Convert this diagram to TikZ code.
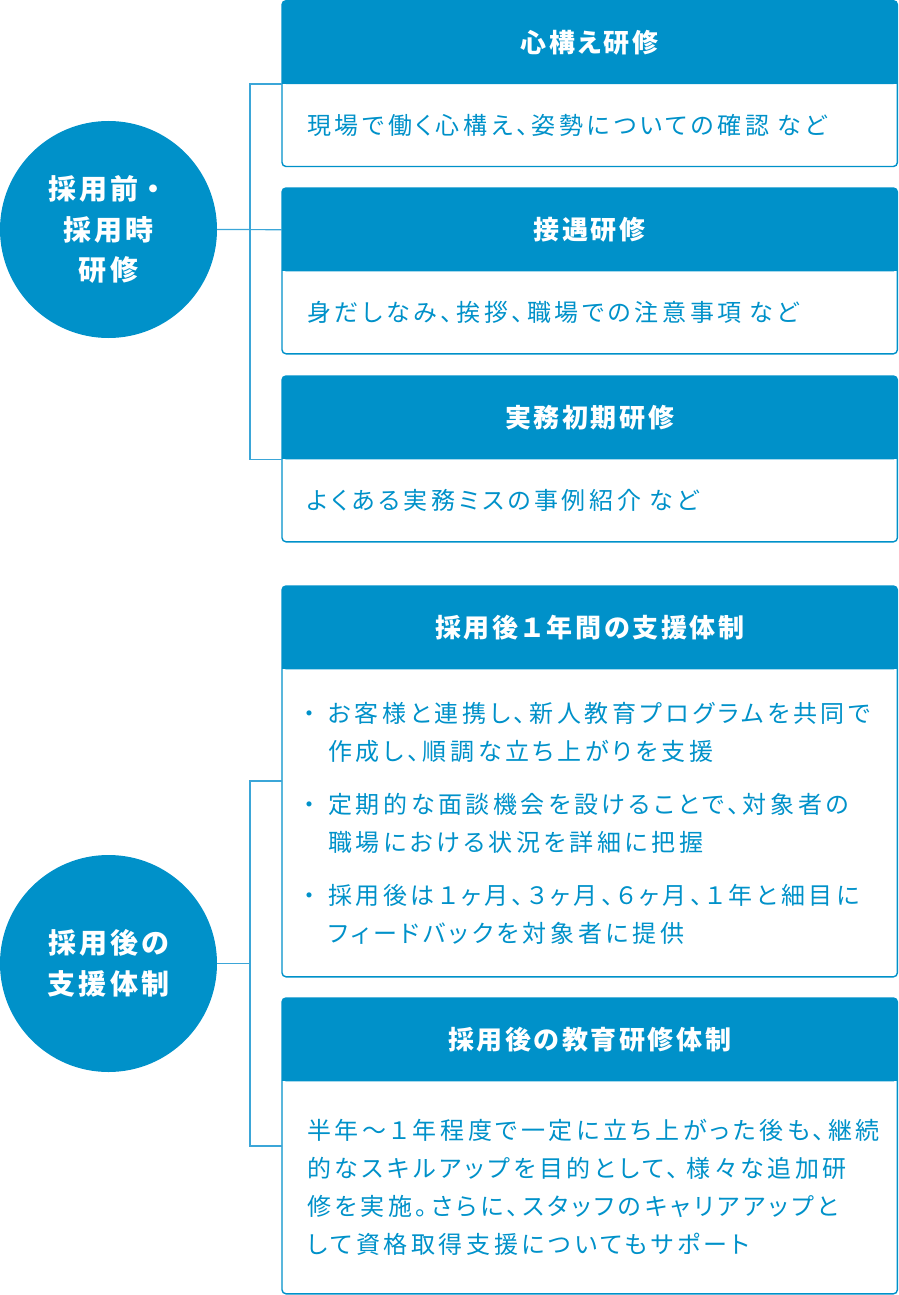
\documentclass[tikz,border=0pt]{standalone}
\usepackage{fontspec}
\setmainfont{Noto Sans CJK JP}[RawFeature=+palt]
\usetikzlibrary{positioning,backgrounds}

\definecolor{kblue}{HTML}{0091C9}
\definecolor{klink}{HTML}{3BA6D8}
\newcommand{\bodyfont}{\fontsize{24}{38}\selectfont\addfontfeatures{LetterSpace=15}}
\newcommand{\headfont}{\bfseries\fontsize{26}{30}\selectfont\addfontfeatures{LetterSpace=10}}
\newcommand{\roundfont}{\bfseries\fontsize{28}{40.5}\selectfont\addfontfeatures{LetterSpace=11}}
\newcommand{\bul}{\makebox[21pt][l]{\kern-4pt ・}}
\newcommand{\ind}{\hspace*{21pt}}
\newcommand{\zw}[1]{\makebox[1.1em]{#1}}

\begin{document}
\begin{tikzpicture}[x=1pt,y=1pt]
\tikzstyle{hdbox}=[rectangle,anchor=north west,minimum width=615,minimum height=83,inner sep=0,text=white,font=\headfont]
\tikzstyle{bdbox}=[rectangle,minimum width=615,text width=565,inner xsep=25,inner ysep=0,align=left,text=kblue,font=\bodyfont]
\tikzstyle{round}=[circle,fill=kblue,minimum size=217,inner sep=0,align=center,text=white,font=\roundfont]
\tikzstyle{link}=[klink,line width=1.2]
\tikzstyle{frame}=[kblue,line width=1.4,rounded corners=4]
\useasboundingbox (0,0) rectangle (899,-1295);

\node[round] (pre) at (108.5,-229.5) {採用前\zw{・}\\採用時\\研修};
\node[round] (post) at (108.5,-963.5) {採用後の\\支援体制};

\node[hdbox] (hd1) at (282,-0.7) {心構え研修};
\node[bdbox,minimum height=82,below=0pt of hd1] (bd1) {現場で働く心構え、姿勢についての確認 など};
\node[hdbox] (hd2) at (282,-188) {接遇研修};
\node[bdbox,minimum height=82,below=0pt of hd2] (bd2) {身だしなみ、挨拶、職場での注意事項 など};
\node[hdbox] (hd3) at (282,-376) {実務初期研修};
\node[bdbox,minimum height=82,below=0pt of hd3] (bd3) {よくある実務ミスの事例紹介 など};

\node[hdbox] (hd4) at (282,-586) {採用後\zw{１}年間の支援体制};
\node[bdbox,minimum height=307,below=0pt of hd4] (bd4) {\bul お客様と連携し、新人教育プログラムを共同で\\\ind 作成し、順調な立ち上がりを支援\\[15pt]\bul 定期的な面談機会を設けることで、対象者の\\\ind 職場における状況を詳細に把握\\[15pt]\bul 採用後は\zw{１}ヶ月、\zw{３}ヶ月、\zw{６}ヶ月、\zw{１}年と細目に\\\ind フィードバックを対象者に提供};
\node[hdbox] (hd5) at (282,-998) {採用後の教育研修体制};
\node[bdbox,minimum height=212,below=0pt of hd5] (bd5) {半年〜\zw{１}年程度で一定に立ち上がった後も、継続\\的なスキルアップを目的として、 様々な追加研\\修を実施。さらに、スタッフのキャリアアップと\\して資格取得支援についてもサポート};

% brackets
\draw[link] (hd1.south west) -- ++(-32,0) |- (hd3.south west);
\draw[link] (pre.east) -- (hd2.west);
\coordinate (t4) at (282,-781);
\coordinate (t5) at (282,-1146);
\draw[link] (t4) -- ++(-32,0) coordinate (m2) |- (t5);
\draw[link] (post.east) -- (post.east -| m2);

\begin{scope}[on background layer]
\foreach \i in {1,...,5} {
  \fill[kblue,rounded corners=4] (hd\i.north west) rectangle (hd\i.south east);
  \fill[kblue] (hd\i.west) rectangle (hd\i.south east);
  \draw[frame] (hd\i.north west) rectangle (bd\i.south east);
}
\end{scope}
\end{tikzpicture}
\end{document}
